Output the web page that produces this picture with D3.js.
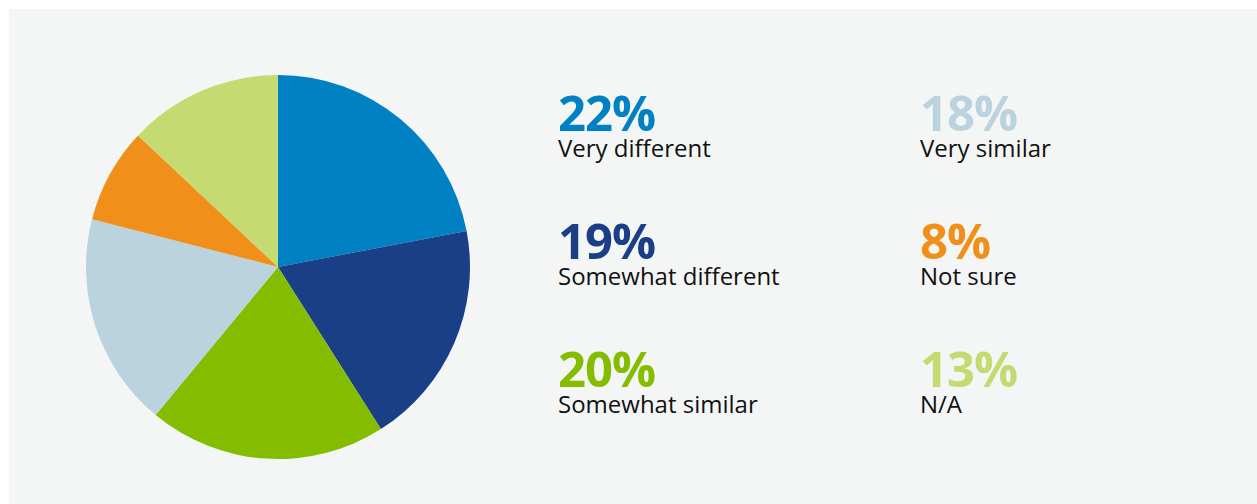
<!DOCTYPE html>
<html>
<head>
<meta charset="utf-8">
<script src="https://cdn.jsdelivr.net/npm/d3@7"></script>
<style>
  body { margin: 0; background: #fff; }
  svg { display: block; }
  text { font-family: "Open Sans", "Noto Sans", sans-serif; }
</style>
</head>
<body>
<script>
// chart data
var categories = ['Very different', 'Somewhat different', 'Somewhat similar', 'Very similar', 'Not sure', 'N/A'];
var values = [22, 19, 20, 18, 8, 13];
var colors = ['#0081c3', '#1b3f87', '#84bd00', '#bbd3df', '#f0901b', '#c5db72'];

var width = 1257, height = 504;
var cx = 278, cy = 267, radius = 192;

var svg = d3.select('body').append('svg')
    .attr('width', width)
    .attr('height', height);

// panel background
svg.append('rect')
    .attr('x', 9)
    .attr('y', 9)
    .attr('width', width - 9)
    .attr('height', height - 9)
    .attr('fill', '#f4f6f6');

var data = categories.map(function (c, i) {
    return { label: c, value: values[i], color: colors[i] };
});

var pie = d3.pie()
    .sort(null)
    .value(function (d) { return d.value; });

var arc = d3.arc()
    .innerRadius(0)
    .outerRadius(radius);

svg.append('g')
    .attr('transform', 'translate(' + cx + ',' + cy + ')')
  .selectAll('path')
    .data(pie(data))
    .enter().append('path')
    .attr('d', arc)
    .attr('fill', function (d) { return d.data.color; });

// legend: two columns, three rows
var colX = d3.scaleOrdinal().domain([0, 1]).range([558, 920]);
var rowY = d3.scaleLinear().domain([0, 2]).range([131, 387]);

var items = svg.append('g')
  .selectAll('g')
    .data(data)
    .enter().append('g')
    .attr('transform', function (d, i) {
        return 'translate(' + colX(Math.floor(i / 3)) + ',' + rowY(i % 3) + ')';
    });

items.append('text')
    .attr('font-size', 49)
    .attr('font-weight', 700)
    .attr('letter-spacing', -1)
    .attr('fill', function (d) { return d.color; })
    .text(function (d) { return d.value + '%'; });

items.append('text')
    .attr('y', 26)
    .attr('font-size', 24)
    .attr('fill', '#111')
    .text(function (d) { return d.label; });
</script>
</body>
</html>
